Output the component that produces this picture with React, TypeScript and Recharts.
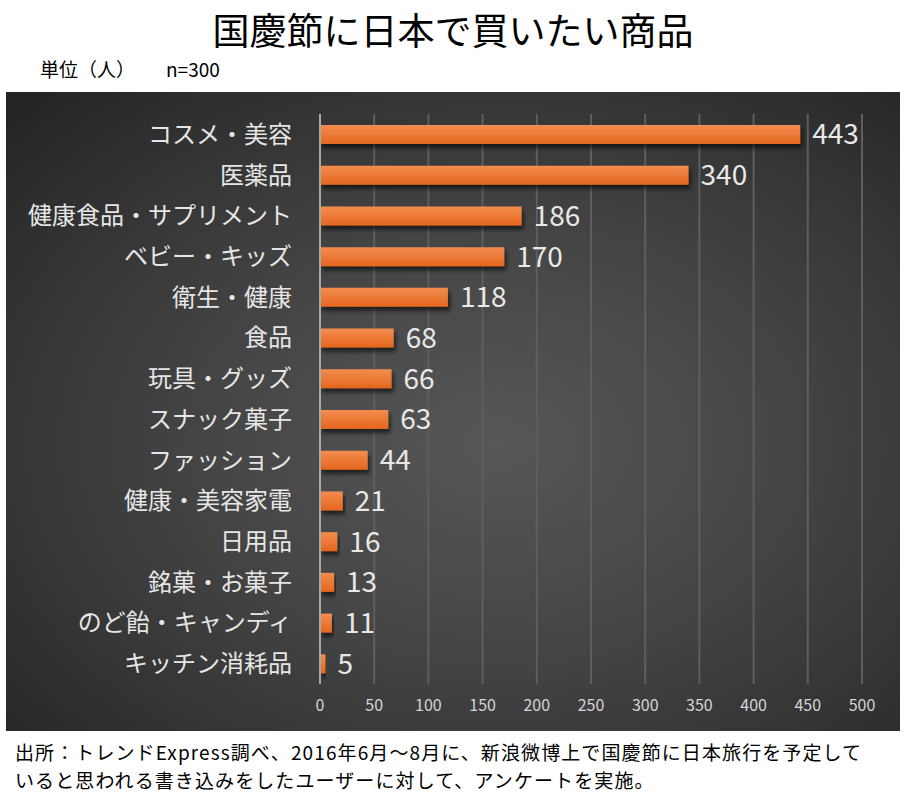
import React from "react";
import {
  BarChart, Bar, XAxis, YAxis, CartesianGrid, LabelList,
} from "recharts";

// 国慶節に日本で買いたい商品 (n=300)
const categories = [
  "コスメ・美容",
  "医薬品",
  "健康食品・サプリメント",
  "ベビー・キッズ",
  "衛生・健康",
  "食品",
  "玩具・グッズ",
  "スナック菓子",
  "ファッション",
  "健康・美容家電",
  "日用品",
  "銘菓・お菓子",
  "のど飴・キャンディ",
  "キッチン消耗品",
];
const counts = [443, 340, 186, 170, 118, 68, 66, 63, 44, 21, 16, 13, 11, 5];
const xTicks = [0, 50, 100, 150, 200, 250, 300, 350, 400, 450, 500];

const data = categories.map((name, i) => ({ name, value: counts[i] }));

const FONT = '"Noto Sans CJK JP", "Noto Sans", sans-serif';

export default function App() {
  return (
    <div
      style={{
        position: "absolute", left: 0, top: 0, width: 917, height: 810,
        background: "#fff", fontFamily: FONT, color: "#000",
      }}
    >
      <div
        style={{
          position: "absolute", left: 0, top: 4, width: 906, textAlign: "center",
          fontSize: 37, lineHeight: "50px",
        }}
      >
        国慶節に日本で買いたい商品
      </div>
      <div style={{ position: "absolute", left: 40, top: 56, fontSize: 19, lineHeight: "26px" }}>
        単位（人）<span style={{ marginLeft: 31 }}>n=300</span>
      </div>

      <div
        style={{
          position: "absolute", left: 6, top: 92, width: 894, height: 639,
          background:
            "radial-gradient(ellipse 75% 75% at 55% 55%, #575757 0%, #444 45%, #2e2e2e 85%, #242424 100%)",
        }}
      >
        <BarChart
          width={894}
          height={639}
          data={data}
          layout="vertical"
          margin={{ top: 22, right: 38, left: 0, bottom: 17 }}
          barSize={19}
        >
          <defs>
            <linearGradient id="orangeGrad" x1="0" y1="0" x2="0" y2="1">
              <stop offset="0%" stopColor="#f38d50" />
              <stop offset="100%" stopColor="#e4661d" />
            </linearGradient>
            <filter id="barShadow" x="-5%" y="-30%" width="115%" height="190%">
              <feDropShadow dx="2" dy="4" stdDeviation="2" floodColor="#000" floodOpacity="0.6" />
            </filter>
          </defs>
          <CartesianGrid horizontal={false} stroke="#5e5e5e" strokeWidth={2} />
          <XAxis
            type="number"
            domain={[0, 500]}
            ticks={xTicks}
            interval={0}
            axisLine={false}
            tickLine={false}
            tickMargin={10}
            height={30}
            tick={{ fontSize: 16, fill: "#d4d4d4", fontFamily: FONT }}
          />
          <YAxis
            type="category"
            dataKey="name"
            width={314}
            interval={0}
            tickLine={false}
            tickMargin={22}
            axisLine={{ stroke: "#a8a8a8", strokeWidth: 2 }}
            tick={{ fontSize: 24, fill: "#e6e6e6", fontFamily: FONT }}
          />
          <Bar
            dataKey="value"
            fill="url(#orangeGrad)"
            filter="url(#barShadow)"
            isAnimationActive={false}
          >
            <LabelList
              dataKey="value"
              position="right"
              offset={12}
              fill="#e8e8e8"
              fontSize={28}
              fontFamily={FONT}
            />
          </Bar>
        </BarChart>
      </div>

      <div
        style={{
          position: "absolute", left: 15, top: 741, fontSize: 19, lineHeight: "22px",
          whiteSpace: "nowrap", letterSpacing: 1.1,
        }}
      >
        出所：トレンドExpress調べ、2016年6月～8月に、新浪微博上で国慶節に日本旅行を予定して
      </div>
      <div
        style={{
          position: "absolute", left: 15, top: 769, fontSize: 19, lineHeight: "22px",
          whiteSpace: "nowrap", letterSpacing: 1.1,
        }}
      >
        いると思われる書き込みをしたユーザーに対して、アンケートを実施。
      </div>
    </div>
  );
}
